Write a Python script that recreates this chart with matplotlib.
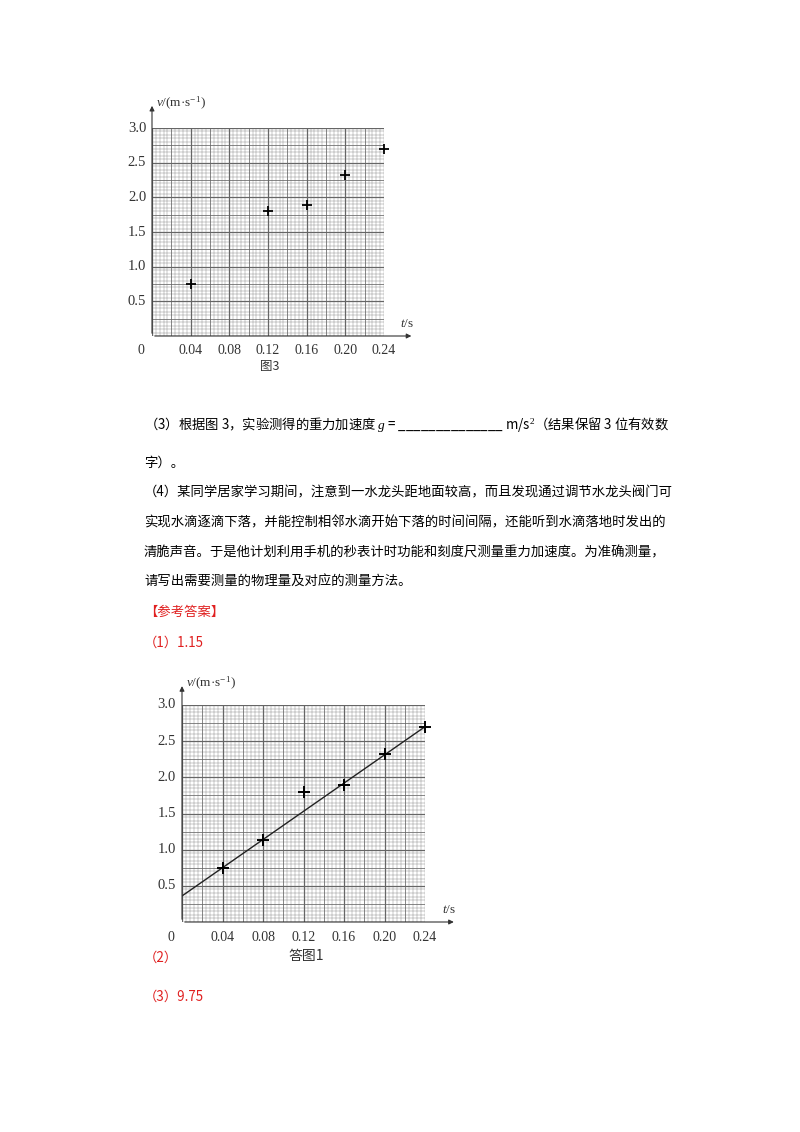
import numpy as np
import matplotlib.pyplot as plt

# data
t_fig3 = [0.04, 0.12, 0.16, 0.20, 0.24]
v_fig3 = [0.75, 1.80, 1.89, 2.32, 2.70]
t_ans = [0.04, 0.08, 0.12, 0.16, 0.20, 0.24]
v_ans = [0.75, 1.14, 1.80, 1.89, 2.32, 2.70]
fit_t = [0.0, 0.24]
fit_v = [0.36, 2.70]
x_ticks = [0.04, 0.08, 0.12, 0.16, 0.20, 0.24]
y_ticks = [0.5, 1.0, 1.5, 2.0, 2.5, 3.0]

W, H = 800, 1132
CJK = ['Noto Sans CJK SC', 'DejaVu Sans']
SERIF = 'Liberation Serif'
plt.rcParams['mathtext.fontset'] = 'custom'
plt.rcParams['mathtext.rm'] = SERIF
plt.rcParams['mathtext.it'] = SERIF + ':italic'
plt.rcParams['mathtext.bf'] = SERIF + ':bold'

fig = plt.figure(figsize=(W / 100, H / 100), dpi=100)


def px_axes(x0, y0, x1, y1):
    return fig.add_axes([x0 / W, 1 - y1 / H, (x1 - x0) / W, (y1 - y0) / H])


def graph_paper(ax, arrow_x, arrow_y):
    ax.set_xlim(0, 0.24)
    ax.set_ylim(0, 3.0)
    for i, x in enumerate(np.linspace(0, 0.24, 61)):
        lw = 0.9 if i % 10 == 0 else (0.55 if i % 5 == 0 else 0.25)
        ax.axvline(x, color='#666666', lw=lw, zorder=1)
    for i, y in enumerate(np.linspace(0, 3.0, 61)):
        lw = 0.9 if i % 10 == 0 else (0.55 if i % 5 == 0 else 0.25)
        ax.axhline(y, color='#666666', lw=lw, zorder=1)
    for s in ax.spines.values():
        s.set_visible(False)
    ax.set_xticks([])
    ax.set_yticks([])
    # axis arrows
    for tip in [(arrow_x, 0), (0, arrow_y)]:
        ax.annotate('', xy=tip, xytext=(0, 0), xycoords='axes fraction',
                    arrowprops=dict(arrowstyle='-|>', lw=0.8, color='#333333',
                                    mutation_scale=7), annotation_clip=False)
    for x in x_ticks:
        ax.text(x, -0.12, f'{x:.2f}', ha='center', va='top', fontsize=10,
                family=SERIF, color='#333333')
    ax.text(-0.008, -0.12, '0', ha='right', va='top', fontsize=10,
            family=SERIF, color='#333333')
    for y in y_ticks:
        ax.text(-0.006, y, f'{y:.1f}', ha='right', va='center', fontsize=10.5,
                family=SERIF, color='#333333')
    ax.text(0.004, 3.0 * arrow_y, r'$\mathit{v}$/(m·s$^{-1}$)',
            ha='left', va='center', fontsize=9.5, family=SERIF, color='#333333')
    ax.text(0.24 * (arrow_x - 0.03), 0.08, r'$\mathit{t}$/s', ha='center',
            va='bottom', fontsize=9.5, family=SERIF, color='#333333')


# figure 3
ax1 = px_axes(152, 128, 384, 336)
graph_paper(ax1, 1.13, 1.12)
ax1.plot(t_fig3, v_fig3, '+', color='black', ms=7, mew=1.3, zorder=3,
         clip_on=False)
fig.text(270 / W, 1 - 366 / H, '图3', ha='center', va='center',
         fontsize=9, family=CJK, color='#333333')

# answer figure 1
ax2 = px_axes(182, 705, 425, 922)
graph_paper(ax2, 1.13, 1.10)
ax2.plot(fit_t, fit_v, '-', color='#222222', lw=1.0, zorder=2)
ax2.plot(t_ans, v_ans, '+', color='black', ms=8, mew=1.4, zorder=3,
         clip_on=False)
fig.text(306 / W, 1 - 956 / H, '答图1', ha='center', va='center',
         fontsize=10, family=CJK, color='#333333')

lines = [
    (425, '（3）根据图 3，实验测得的重力加速度 $g$ = ______________ m/s$^2$（结果保留 3 位有效数', 'black'),
    (463, '字）。', 'black'),
    (492, '（4）某同学居家学习期间，注意到一水龙头距地面较高，而且发现通过调节水龙头阀门可', 'black'),
    (522, '实现水滴逐滴下落，并能控制相邻水滴开始下落的时间间隔，还能听到水滴落地时发出的', 'black'),
    (552, '清脆声音。于是他计划利用手机的秒表计时功能和刻度尺测量重力加速度。为准确测量，', 'black'),
    (582, '请写出需要测量的物理量及对应的测量方法。', 'black'),
    (612, '【参考答案】', '#e02020'),
    (643, '（1）1.15', '#e02020'),
    (958, '（2）', '#e02020'),
    (997, '（3）9.75', '#e02020'),
]
for y, s, c in lines:
    fig.text(144 / W, 1 - y / H, s, ha='left', va='center', fontsize=9.6,
             family=CJK, color=c)

fig.savefig('out.png', dpi=100)
